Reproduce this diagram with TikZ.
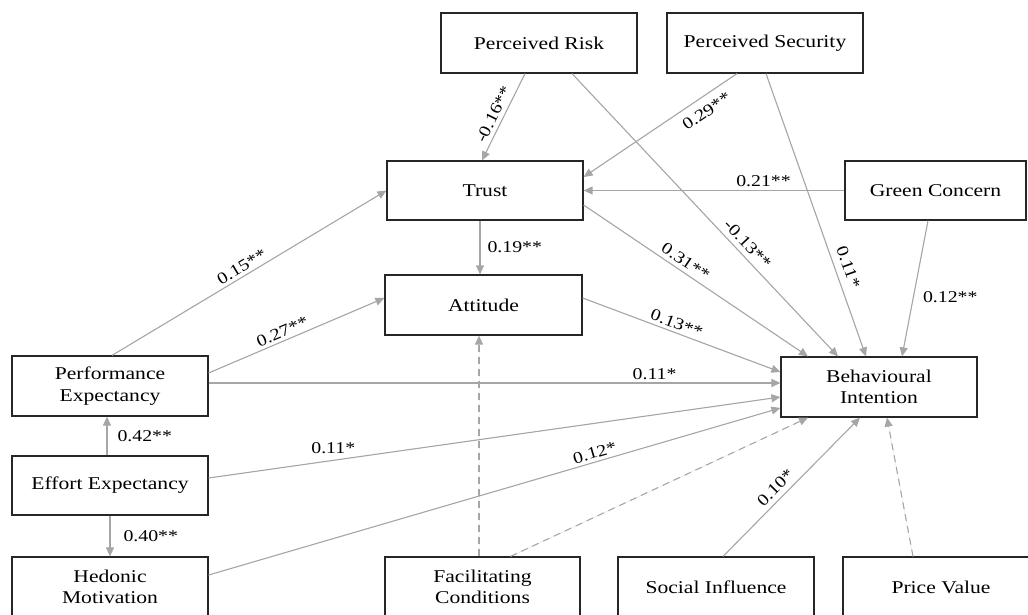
\documentclass[tikz,border=0pt]{standalone}
\usepackage{fontspec}
\setmainfont{Liberation Serif}[FakeStretch=1.2]
\usetikzlibrary{arrows.meta}
\definecolor{linegray}{HTML}{A6A6A6}
\definecolor{boxline}{HTML}{262626}
\tikzset{
  box/.style={draw=boxline, line width=1.2pt, fill=white, rectangle, minimum width=196pt, minimum height=60pt, inner sep=0pt, align=center, font=\fontsize{18}{21.6}\selectfont},
  arr/.style={draw=linegray, line width=1.1pt, -{Triangle[length=9pt,width=8pt]}, fill=linegray},
  darr/.style={arr, dash pattern=on 7pt off 5pt},
  lab/.style={inner sep=3pt, font=\fontsize{16.5}{18}\selectfont, fill=none, text=black}
}
\begin{document}
\begin{tikzpicture}[x=1pt,y=-1pt]
\useasboundingbox (0,0) rectangle (1028,614);
\clip (0,0) rectangle (1028,614);
% nodes
\node[box] (PR) at (539,43) {Perceived Risk};
\node[box] (PS) at (765,43) {Perceived Security};
\node[box, minimum height=59pt] (Trust) at (485,190.5) {Trust};
\node[box, minimum width=181pt, minimum height=59pt] (GC) at (935.5,190.5) {Green Concern};
\node[box, minimum width=197pt] (Att) at (483.5,305) {Attitude};
\node[box] (PE) at (110,386) {Performance\\Expectancy};
\node[box] (BI) at (879,387) {Behavioural\\Intention};
\node[box, minimum height=59pt] (EE) at (110,485.5) {Effort Expectancy};
\node[box] (HM) at (110,587) {Hedonic\\Motivation};
\node[box, minimum width=195pt] (FC) at (482.5,587) {Facilitating\\Conditions};
\node[box] (SI) at (716,587) {Social Influence};
\node[box] (PV) at (941,587) {Price Value};
% connectors
\draw[arr] ([xshift=-14pt]PR.south) -- ([xshift=-3pt]Trust.north)
  node[lab,pos=0.52,sloped,above=1pt] {-0.16**};
\draw[arr] ([xshift=33pt]PR.south) -- ([xshift=-41pt]BI.north)
  node[lab,pos=0.63,sloped,above=2pt] {-0.13**};
\draw[arr] ([xshift=-28pt]PS.south) -- ([yshift=13.5pt]Trust.east)
  node[lab,pos=0.25,sloped,below=5pt] {0.29**};
\draw[arr] (GC.west) -- (Trust.east)
  node[lab,pos=0.31,above] {0.21**};
\draw[arr] ([yshift=-14.5pt]Trust.east) -- ([xshift=-71pt]BI.north)
  node[lab,pos=0.43,sloped,above=1pt] {0.31**};
\draw[arr] ([xshift=1pt]PS.south) -- ([xshift=-13pt]BI.north)
  node[lab,pos=0.7,sloped,above=4pt] {0.11*};
\draw[arr] ([xshift=-7.5pt]GC.south) -- ([xshift=23pt]BI.north)
  node[lab,pos=0.56,right=6pt] {0.12**};
\draw[arr] ([yshift=7pt]Att.east) -- ([yshift=15pt]BI.west)
  node[lab,pos=0.46,sloped,above] {0.13**};
\draw[arr] ([xshift=2pt]PE.north) -- (Trust.west)
  node[lab,pos=0.49,sloped,above] {0.15**};
\draw[arr] ([yshift=13pt]PE.east) -- ([yshift=7pt]Att.west)
  node[lab,pos=0.44,sloped,above] {0.27**};
\draw[arr] ([yshift=3pt]PE.east) -- ([yshift=4pt]BI.west)
  node[lab,pos=0.78,above] {0.11*};
\draw[arr] ([yshift=7.5pt]EE.east) -- ([yshift=-10pt]BI.west)
  node[lab,pos=0.218,above,yshift=3pt] {0.11*};
\draw[arr] ([yshift=12pt]HM.east) -- ([yshift=-21pt]BI.west)
  node[lab,pos=0.68,sloped,above] {0.12*};
\draw[darr] ([xshift=-3.5pt]FC.north) -- ([xshift=-4.5pt]Att.south);
\draw[darr] ([xshift=28pt]FC.north) -- ([xshift=-71pt]BI.south);
\draw[arr] ([xshift=7pt]SI.north) -- ([xshift=-19pt]BI.south)
  node[lab,pos=0.44,sloped,above=2pt] {0.10*};
\draw[darr] ([xshift=-28pt]PV.north) -- ([xshift=8pt]BI.south);
\draw[arr] ([xshift=-5pt]Trust.south) -- ([xshift=-3.5pt]Att.north)
  node[lab,pos=0.5,right=4pt] {0.19**};
\draw[arr] ([xshift=-3pt]EE.north) -- ([xshift=-3pt]PE.south)
  node[lab,pos=0.5,right=7pt] {0.42**};
\draw[arr] (EE.south) -- (HM.north)
  node[lab,pos=0.5,right=10pt] {0.40**};
\end{tikzpicture}
\end{document}
